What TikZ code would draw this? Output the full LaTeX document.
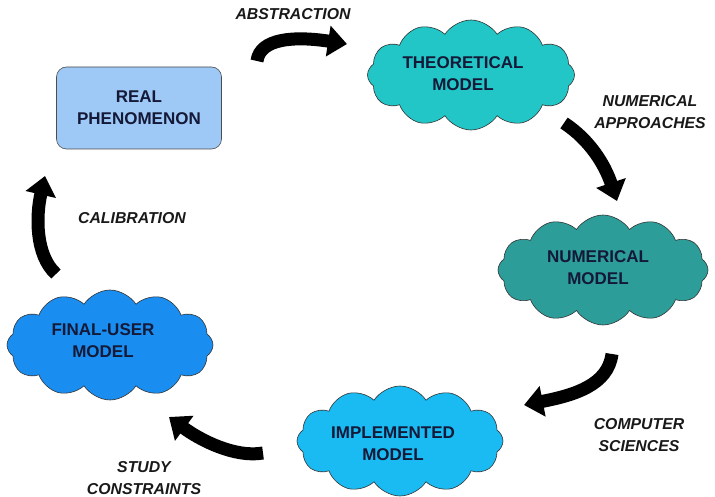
\documentclass[tikz,border=0pt]{standalone}
\usepackage{fontspec}
\setmainfont{Liberation Sans}
\usetikzlibrary{shapes.symbols,arrows.meta}
\definecolor{txt}{RGB}{20,25,55}
\definecolor{realc}{RGB}{158,200,246}
\definecolor{theoc}{RGB}{34,198,198}
\definecolor{numc}{RGB}{44,157,153}
\definecolor{implc}{RGB}{26,186,242}
\definecolor{finalc}{RGB}{26,142,240}
\begin{document}
\begin{tikzpicture}[x=1pt,y=-1pt,
  cloudbox/.style={cloud, cloud puffs=12, cloud puff arc=115, cloud ignores aspect,
    draw=black!80, line width=0.6pt, inner sep=0pt},
  ctext/.style={font=\bfseries\fontsize{17}{22}\selectfont, text=txt, align=center},
  lbl/.style={font=\bfseries\itshape\fontsize{15.8}{21.5}\selectfont, align=center, text=black!90},
  bigarrow/.style={line width=13pt, -{Triangle[width=30pt,length=19pt]}, black}]
\fill[white] (0,0) rectangle (715,497);
\useasboundingbox (0,0) rectangle (715,497);

\node[draw=black!70, line width=0.6pt, fill=realc, rounded corners=10pt,
  minimum width=165pt, minimum height=82pt, ctext] (real) at (139,108) {REAL\\PHENOMENON};

\node[cloudbox, fill=theoc, minimum width=207pt, minimum height=110pt] (theo) at (471,75) {};
\node[ctext] (theot) at (463,74) {THEORETICAL\\MODEL};

\node[cloudbox, fill=numc, minimum width=210pt, minimum height=110pt] (num) at (603,270) {};
\node[ctext] (numt) at (598,268) {NUMERICAL\\MODEL};

\node[cloudbox, fill=implc, minimum width=206pt, minimum height=110pt] (impl) at (400,441) {};
\node[ctext] (implt) at (393,444) {IMPLEMENTED\\MODEL};

\node[cloudbox, fill=finalc, minimum width=206pt, minimum height=110pt] (final) at (110,345) {};
\node[ctext] (finalt) at (103,341) {FINAL-USER\\MODEL};

\node[lbl] (labs) at (293,14) {ABSTRACTION};
\node[lbl] (lnum) at (650,112) {NUMERICAL\\APPROACHES};
\node[lbl] (lcomp) at (639,435) {COMPUTER\\SCIENCES};
\node[lbl] (lstudy) at (144,478) {STUDY\\CONSTRAINTS};
\node[lbl] (lcal) at (132,218) {CALIBRATION};

\coordinate (a1) at (257,61); \coordinate (a2) at (347,44);
\coordinate (b1) at (564,123); \coordinate (b2) at (617,201);
\coordinate (c1) at (612,354); \coordinate (c2) at (524,405);
\coordinate (d1) at (263,453); \coordinate (d2) at (169,417);
\coordinate (e1) at (56,274); \coordinate (e2) at (45,176);

\draw[bigarrow] (a1) .. controls (260,38) and (295,36) .. (a2);
\draw[bigarrow] (b1) .. controls (590,140) and (605,165) .. (b2);
\draw[bigarrow] (c1) .. controls (608,385) and (575,395) .. (c2);
\draw[bigarrow] (d1) .. controls (235,458) and (200,440) .. (d2);
\draw[bigarrow] (e1) .. controls (35,255) and (36,215) .. (e2);
\end{tikzpicture}
\end{document}
